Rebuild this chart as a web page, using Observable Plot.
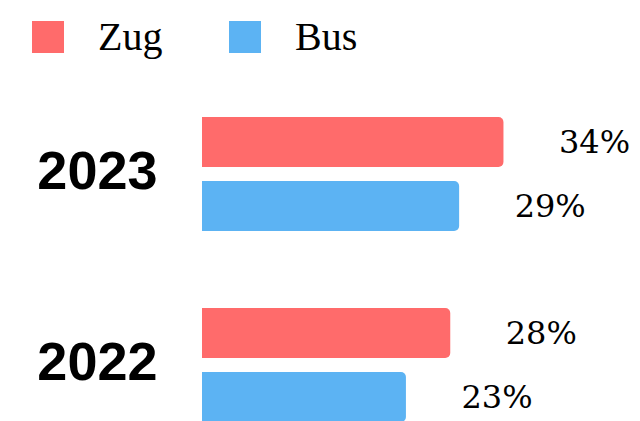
<!DOCTYPE html>
<html>
<head>
<meta charset="utf-8">
<script src="https://cdn.jsdelivr.net/npm/d3@7"></script>
<script src="https://cdn.jsdelivr.net/npm/@observablehq/plot@0.6"></script>
<style>
  html, body { margin: 0; padding: 0; background: #fff; overflow: hidden; }
  #legend { height: 75px; box-sizing: border-box; padding: 21px 0 0 32px; display: flex; }
  #legend .item { width: 197px; display: flex; align-items: center; height: 32px; }
  #legend .sw { width: 32px; height: 32px; margin-right: 34px; flex: none; }
  #legend .lab { font-family: "Liberation Serif", serif; font-size: 40px; line-height: 32px; color: #000; }
  #chart svg { display: block; }
</style>
</head>
<body>
<div id="legend"></div>
<div id="chart"></div>
<script>
const years = ["2023", "2022"];
const modes = ["Zug", "Bus"];
const zugValues = [34, 28];
const busValues = [29, 23];
const colors = ["#ff6b6b", "#5cb3f3"];

const data = years.flatMap((year, i) => [
  {year, mode: "Zug", value: zugValues[i]},
  {year, mode: "Bus", value: busValues[i]}
]);

// legend
const legend = document.getElementById("legend");
modes.forEach((m, i) => {
  const item = document.createElement("div");
  item.className = "item";
  const sw = document.createElement("div");
  sw.className = "sw";
  sw.style.background = colors[i];
  const lab = document.createElement("span");
  lab.className = "lab";
  lab.textContent = m;
  item.appendChild(sw);
  item.appendChild(lab);
  legend.appendChild(item);
});

const chart = Plot.plot({
  width: 640,
  height: 363,
  marginTop: 27,
  marginBottom: 0,
  marginLeft: 202,
  marginRight: 0,
  x: {domain: [0, 49.4], axis: null},
  y: {domain: modes, padding: 0.2154, axis: null},
  fy: {domain: years, paddingInner: 0.246, paddingOuter: 0, axis: null},
  color: {domain: modes, range: colors},
  marks: [
    Plot.barX(data, {x: "value", y: "mode", fy: "year", fill: "mode", rx: 5, insetLeft: -12, clip: true}),
    Plot.text(data, {x: "value", y: "mode", fy: "year", text: d => d.value + "%", dx: 55, textAnchor: "start",
      fontSize: 32, fontFamily: "DejaVu Serif", fill: "#000"}),
    Plot.text(years, {fy: d => d, text: d => d, frameAnchor: "left", textAnchor: "end", dx: -45, dy: -3,
      fontSize: 54, fontWeight: "bold", fontFamily: "Liberation Sans", fill: "#000"})
  ]
});
document.getElementById("chart").appendChild(chart);
</script>
</body>
</html>
